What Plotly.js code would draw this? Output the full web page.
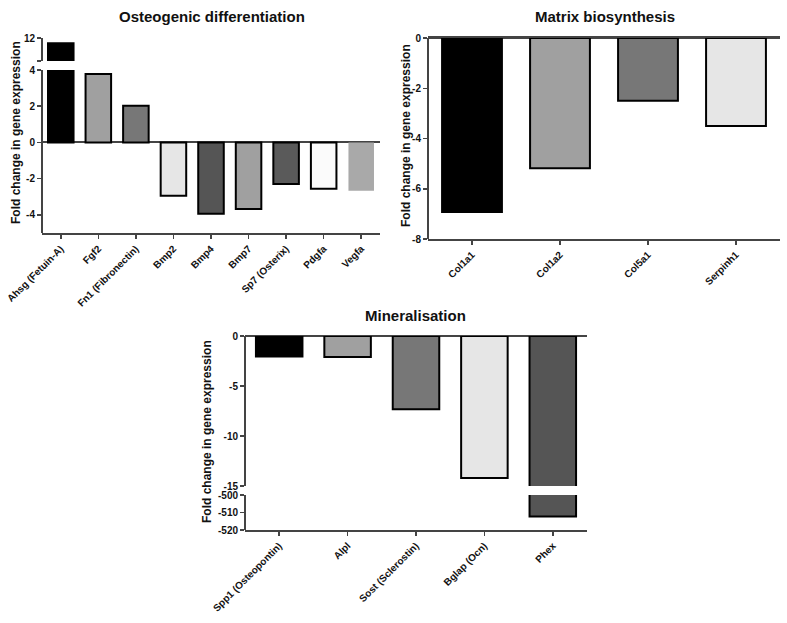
<!DOCTYPE html>
<html>
<head>
<meta charset="utf-8">
<script src="https://cdn.plot.ly/plotly-3.0.1.min.js"></script>
<style>html,body{margin:0;padding:0;background:#fff;}#chart{width:787px;height:623px;}</style>
</head>
<body>
<div id="chart"></div>
<script>
// ---- Data ----
const osteoGenes = ['Ahsg (Fetuin-A)', 'Fgf2', 'Fn1 (Fibronectin)', 'Bmp2', 'Bmp4', 'Bmp7', 'Sp7 (Osterix)', 'Pdgfa', 'Vegfa'];
const osteoValues = [11.1, 3.78, 2.02, -2.95, -3.94, -3.68, -2.3, -2.55, -2.67];
const osteoColors = ['#000000', '#a0a0a0', '#777777', '#e6e6e6', '#555555', '#a0a0a0', '#5a5a5a', '#fbfbfb', '#a9a9a9'];
const osteoBorder = ['#000', '#000', '#000', '#000', '#000', '#000', '#000', '#000', 'rgba(0,0,0,0)'];

const matrixGenes = ['Col1a1', 'Col1a2', 'Col5a1', 'Serpinh1'];
const matrixValues = [-6.93, -5.18, -2.5, -3.5];
const matrixColors = ['#000000', '#a0a0a0', '#777777', '#e6e6e6'];

const mineralGenes = ['Spp1 (Osteopontin)', 'Alpl', 'Sost (Sclerostin)', 'Bglap (Ocn)', 'Phex'];
const mineralValues = [-2.05, -2.1, -7.33, -14.2, -512.3];
const mineralColors = ['#000000', '#a0a0a0', '#777777', '#e6e6e6', '#555555'];

const titles = ['Osteogenic differentiation', 'Matrix biosynthesis', 'Mineralisation'];
const yTitle = 'Fold change in gene expression';

// ---- Layout helpers ----
const W = 787, H = 623;
const fx = p => p / W;
const fy = p => 1 - p / H;
const FONT = 'Liberation Sans, Arial, sans-serif';
const tickFont = {family: FONT, size: 10, color: '#111', weight: 'bold'};
const axCol = '#444';

function bar(x, y, xa, ya, colors, borders) {
  return {
    type: 'bar', x: x, y: y, xaxis: xa, yaxis: ya, width: 0.68,
    marker: {color: colors, line: {color: borders || '#000', width: 2}},
    hoverinfo: 'x+y', showlegend: false
  };
}

const data = [
  bar(osteoGenes, osteoValues, 'x', 'y', osteoColors, osteoBorder),
  bar(osteoGenes, osteoValues, 'x', 'y2', osteoColors, osteoBorder),
  bar(matrixGenes, matrixValues, 'x3', 'y3', matrixColors),
  bar(mineralGenes, mineralValues, 'x4', 'y4', mineralColors),
  bar(mineralGenes, mineralValues, 'x4', 'y5', mineralColors)
];

function xAxis(domain, anchor, extra) {
  return Object.assign({
    domain: domain, anchor: anchor, type: 'category',
    showline: true, linecolor: axCol, linewidth: 2,
    ticks: 'outside', ticklen: 4, tickwidth: 1.5, tickcolor: axCol,
    tickangle: -45, tickfont: tickFont, showgrid: false, zeroline: false, fixedrange: true
  }, extra || {});
}
function yAxis(domain, range, tickvals, ticktext, extra) {
  return Object.assign({
    domain: domain, anchor: 'free', range: range, tickmode: 'array', tickvals: tickvals,
    ticktext: ticktext, showline: true, linecolor: axCol, linewidth: 2,
    ticks: 'outside', ticklen: 4, tickwidth: 1.5, tickcolor: axCol,
    tickfont: tickFont, showgrid: false, zeroline: true, zerolinecolor: axCol, zerolinewidth: 2,
    fixedrange: true
  }, extra || {});
}

function ann(text, px, py, size, angle) {
  return {text: '<b>' + text + '</b>', x: fx(px), y: fy(py), xref: 'paper', yref: 'paper',
    xanchor: 'center', yanchor: 'middle', showarrow: false, textangle: angle || 0,
    font: {family: FONT, size: size, color: '#111'}};
}

const layout = {
  width: W, height: H,
  margin: {l: 0, r: 0, t: 0, b: 0},
  paper_bgcolor: '#fff', plot_bgcolor: 'rgba(0,0,0,0)',
  // Panel 1
  xaxis: xAxis([fx(42), fx(380)], 'y'),
  yaxis: yAxis([fy(233), fy(70)], [-5, 4], [-4, -2, 0, 2, 4], ['-4', '-2', '0', '2', '4'], {position: fx(42)}),
  yaxis2: yAxis([fy(61), fy(38)], [8, 12], [8, 12], ['', '12'], {position: fx(42), zeroline: false}),
  // Panel 2
  xaxis3: xAxis([fx(428), fx(780)], 'y3', {mirror: true}),
  yaxis3: yAxis([fy(239), fy(38)], [-8, 0], [-8, -6, -4, -2, 0], ['-8', '-6', '-4', '-2', '0'], {position: fx(428)}),
  // Panel 3
  xaxis4: xAxis([fx(245), fx(587)], 'y5'),
  yaxis4: yAxis([fy(486), fy(336)], [-15, 0], [-15, -10, -5, 0], ['-15', '-10', '-5', '0'], {position: fx(245)}),
  yaxis5: yAxis([fy(530), fy(495)], [-520, -500], [-520, -510, -500], ['-520', '-510', '-500'], {position: fx(245), zeroline: false}),
  annotations: [
    ann(titles[0], 212, 16, 15),
    ann(titles[1], 605, 16, 15),
    ann(titles[2], 415, 315, 15),
    ann(yTitle, 16, 133, 12, -90),
    ann(yTitle, 406, 136, 12, -90),
    ann(yTitle, 207, 432, 12, -90)
  ]
};

Plotly.newPlot('chart', data, layout, {staticPlot: true, displayModeBar: false});
</script>
</body>
</html>
